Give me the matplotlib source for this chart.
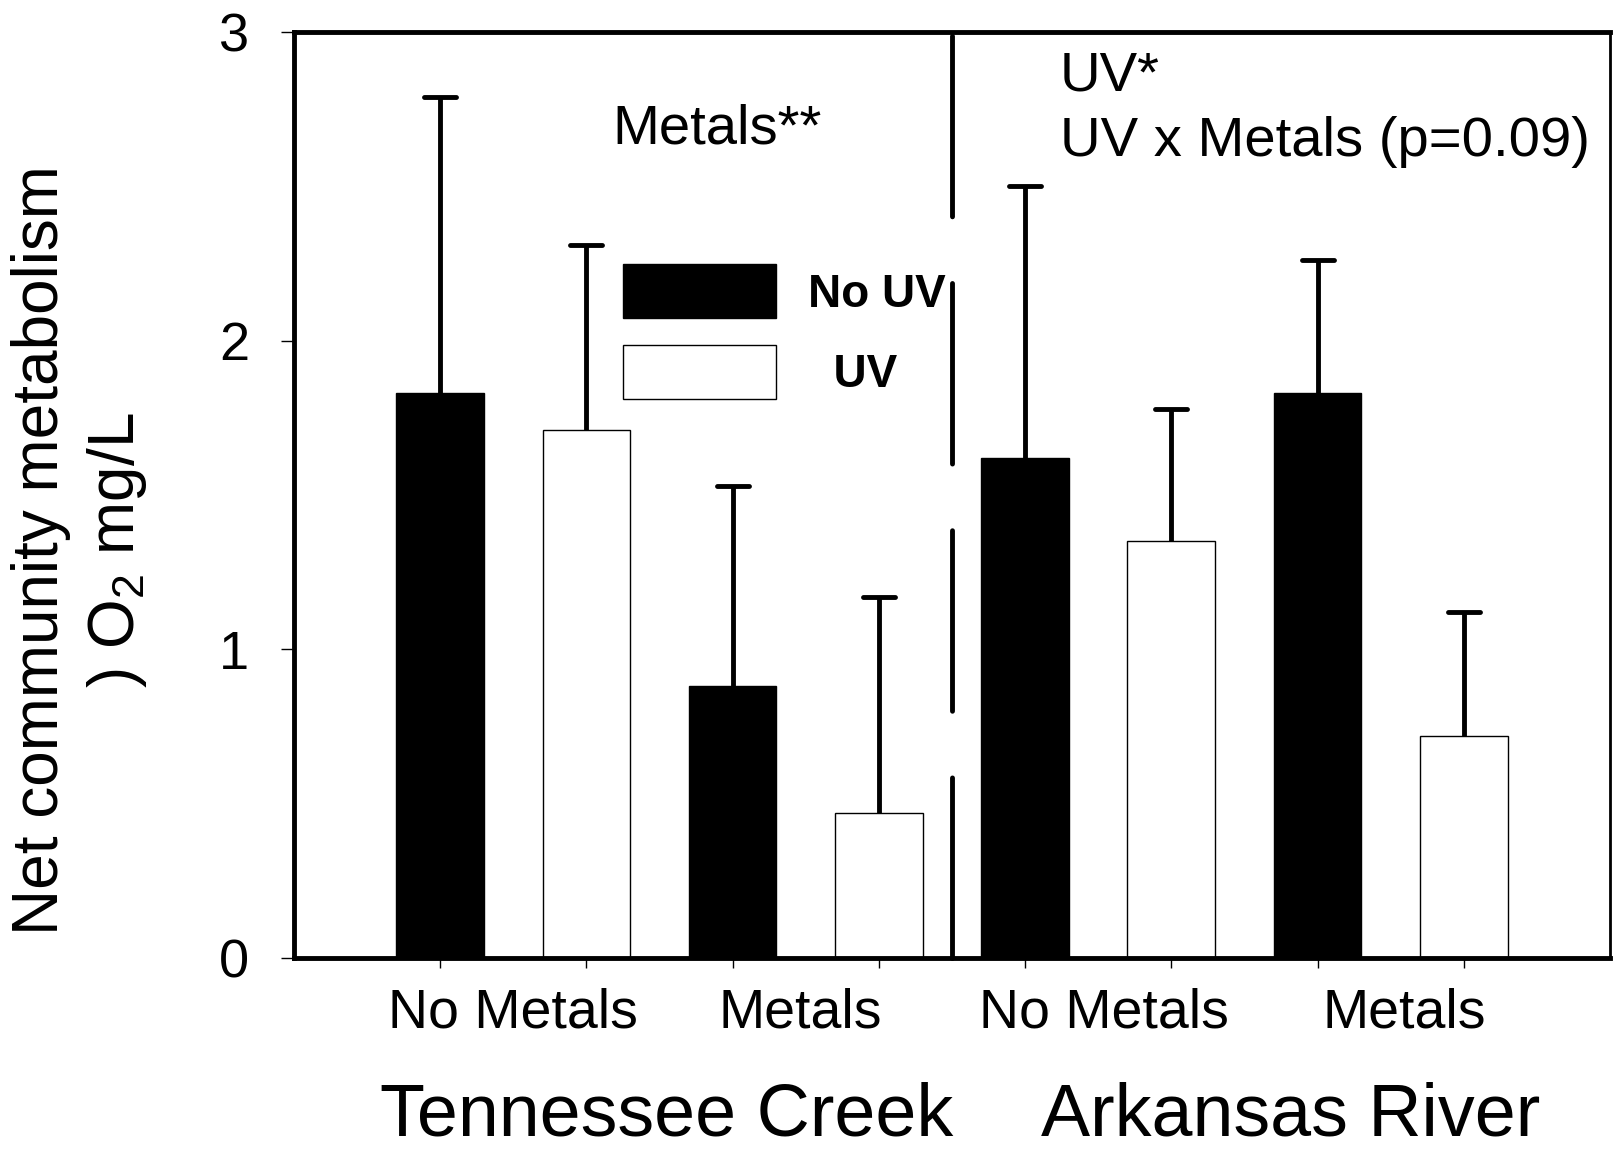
import numpy as np
import matplotlib
matplotlib.use('Agg')
import matplotlib.pyplot as plt
from matplotlib.markers import MarkerStyle
from matplotlib.transforms import blended_transform_factory

plt.rcParams['font.family'] = ['Liberation Sans', 'DejaVu Sans']
plt.rcParams['mathtext.fontset'] = 'custom'
plt.rcParams['mathtext.rm'] = 'Liberation Sans'
plt.rcParams['mathtext.it'] = 'Liberation Sans:italic'
plt.rcParams['lines.scale_dashes'] = False

# data (mean and upper error bar top)
treatments = ['No Metals', 'Metals', 'No Metals', 'Metals']
sites = ['Tennessee Creek', 'Arkansas River']
no_uv_mean = [1.83, 0.88, 1.62, 1.83]
no_uv_top = [2.79, 1.53, 2.50, 2.26]
uv_mean = [1.71, 0.47, 1.35, 0.72]
uv_top = [2.31, 1.17, 1.78, 1.12]
y_ticks = [0, 1, 2, 3]

no_uv_err = np.array(no_uv_top) - np.array(no_uv_mean)
uv_err = np.array(uv_top) - np.array(uv_mean)

x_no_uv = np.arange(len(no_uv_mean)) * 2
x_uv = x_no_uv + 1
width = 0.6

fig = plt.figure(figsize=(16.15, 11.51), dpi=100)
ax = fig.add_axes([0.182, 0.1677, 0.8149, 0.8045])

b1 = ax.bar(x_no_uv, no_uv_mean, width, color='black', edgecolor='black', lw=1, zorder=2)
b2 = ax.bar(x_uv, uv_mean, width, color='white', edgecolor='black', lw=1, zorder=2)

for xs, m, e in [(x_no_uv, no_uv_mean, no_uv_err), (x_uv, uv_mean, uv_err)]:
    eb = ax.errorbar(xs, m, yerr=[np.zeros(len(m)), e], fmt='none', ecolor='black',
                     elinewidth=3.5, capsize=11.5, capthick=3.5, zorder=3)
    for cap in eb[1]:
        # only the upper caps are shown
        if np.allclose(cap.get_ydata(), m):
            cap.set_visible(False)
        cap.set_marker(MarkerStyle('_', capstyle='round'))
        cap.set_markersize(23)
        cap.set_markeredgewidth(3.5)

# dashed divider between the two sites
div_x = (x_uv[1] + x_no_uv[2]) / 2
ax.plot([div_x, div_x], [0, 3], color='black', lw=3.5, dashes=(130, 48),
        dash_capstyle='round', clip_on=False, zorder=4)

ax.set_xlim(-1, 8)
ax.set_ylim(0, 3)

for side in ['left', 'top', 'bottom']:
    ax.spines[side].set_linewidth(3.5)
ax.spines['right'].set_linewidth(2)

ax.set_yticks(y_ticks)
ax.tick_params(axis='y', direction='out', length=9.4, width=1, pad=23, labelsize=39)
ax.set_xticks(np.sort(np.concatenate([x_no_uv, x_uv])))
ax.set_xticklabels([])
ax.set_xticks([0.5, 2.46, 4.54, 6.59], minor=True)
ax.set_xticklabels(treatments, minor=True)
ax.tick_params(axis='x', which='major', direction='out', length=7, width=1)
ax.tick_params(axis='x', which='minor', length=0, pad=21, labelsize=40)

trans = blended_transform_factory(ax.transData, fig.transFigure)
ax.text(1.546, 0.0, sites[0], transform=trans, ha='center', va='bottom', fontsize=53)
ax.text(5.818, 0.0, sites[1], transform=trans, ha='center', va='bottom', fontsize=53)

fig.text(0.0496, 0.522, 'Net community metabolism\n) O$_2$ mg/L', rotation=90,
         ha='center', va='center', fontsize=46, linespacing=1.29, multialignment='center')

ax.text(1.176, 2.683, 'Metals**', fontsize=40.5, va='center', ha='left')
ax.text(4.239, 2.857, 'UV*', fontsize=40.5, va='center', ha='left')
ax.text(4.239, 2.643, 'UV x Metals (p=0.09)', fontsize=40.5, va='center', ha='left')

ax.legend([b1, b2], ['No UV', '  UV'], loc='upper left', bbox_to_anchor=(0.25, 0.749),
          frameon=False, borderpad=0, borderaxespad=0, handlelength=3.34,
          handleheight=1.437, handletextpad=0.7, labelspacing=0.57,
          prop={'weight': 'bold', 'size': 33})

fig.savefig('out.png', dpi=100)
